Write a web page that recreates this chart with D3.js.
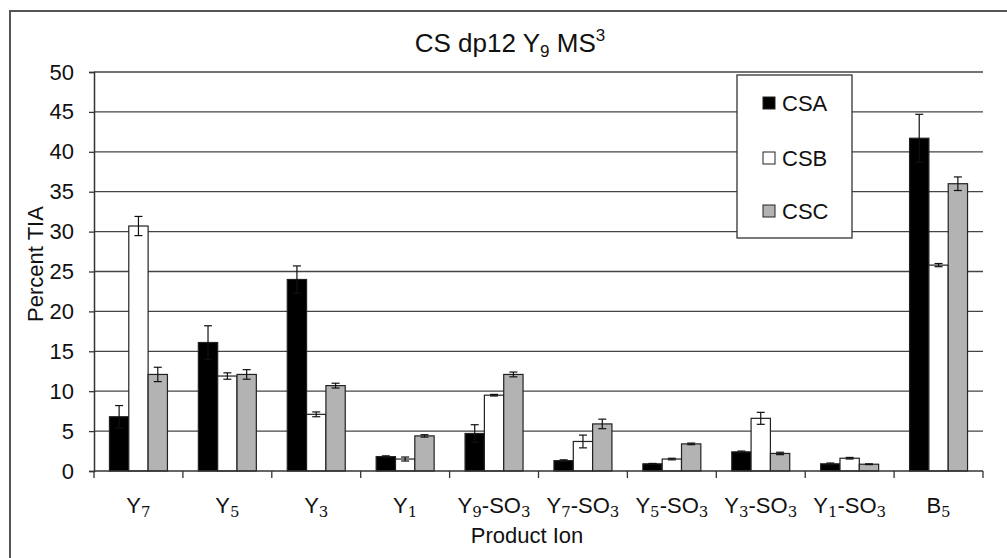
<!DOCTYPE html>
<html>
<head>
<meta charset="utf-8">
<script src="https://cdn.jsdelivr.net/npm/d3@7"></script>
<style>
  html, body { margin: 0; padding: 0; background: #fff; }
  svg { display: block; font-family: "Liberation Sans", Arial, sans-serif; }
</style>
</head>
<body>
<div id="chart"></div>
<script>
// Data
const categories = ["Y_7", "Y_5", "Y_3", "Y_1", "Y_9-SO_3", "Y_7-SO_3", "Y_5-SO_3", "Y_3-SO_3", "Y_1-SO_3", "B_5"];
const seriesNames = ["CSA", "CSB", "CSC"];
const seriesColors = ["#000000", "#ffffff", "#b3b3b3"];
const csa = [6.8, 16.1, 24.0, 1.8, 4.7, 1.3, 0.9, 2.4, 0.9, 41.7];
const csaErr = [1.4, 2.1, 1.7, 0.1, 1.1, 0.1, 0.05, 0.1, 0.1, 3.0];
const csb = [30.7, 11.9, 7.1, 1.5, 9.5, 3.7, 1.5, 6.6, 1.6, 25.8];
const csbErr = [1.2, 0.4, 0.3, 0.25, 0.1, 0.8, 0.1, 0.75, 0.1, 0.2];
const csc = [12.1, 12.1, 10.7, 4.4, 12.1, 5.9, 3.4, 2.2, 0.85, 36.0];
const cscErr = [0.9, 0.6, 0.3, 0.15, 0.3, 0.6, 0.1, 0.15, 0.05, 0.85];
const yTicks = [0, 5, 10, 15, 20, 25, 30, 35, 40, 45, 50];

const width = 1007;
const height = 558;
const plot = { left: 94, right: 983, top: 72, bottom: 471 };

const svg = d3.select("#chart").append("svg")
  .attr("width", width)
  .attr("height", height);

// outer frame (runs past the picture on right and bottom)
svg.append("rect")
  .attr("x", 10).attr("y", 11)
  .attr("width", 1200).attr("height", 800)
  .attr("fill", "none")
  .attr("stroke", "#555")
  .attr("stroke-width", 2);

const x = d3.scaleBand()
  .domain(categories)
  .range([plot.left, plot.right])
  .paddingInner(0)
  .paddingOuter(0);

const xInner = d3.scaleBand()
  .domain(seriesNames)
  .range([0, x.bandwidth()])
  .paddingInner(0)
  .paddingOuter(0.8);

const y = d3.scaleLinear()
  .domain([0, 50])
  .range([plot.bottom, plot.top]);

// gridlines
svg.append("g")
  .selectAll("line")
  .data(yTicks.slice(1))
  .enter()
  .append("line")
  .attr("x1", plot.left).attr("x2", plot.right)
  .attr("y1", (d) => y(d)).attr("y2", (d) => y(d))
  .attr("stroke", "#444")
  .attr("stroke-width", 1.3);

// y axis
const yAxis = svg.append("g")
  .attr("transform", `translate(${plot.left},0)`)
  .call(d3.axisLeft(y).tickValues(yTicks).tickSize(5).tickPadding(15));
yAxis.select(".domain").attr("stroke", "#333").attr("stroke-width", 1.5);
yAxis.selectAll(".tick line").attr("stroke", "#333").attr("stroke-width", 1.3);
yAxis.selectAll("text")
  .attr("fill", "#111")
  .style("font-family", "Liberation Sans, Arial, sans-serif")
  .style("font-size", "22px");

// bars
const series = [
  { name: "CSA", values: csa, errs: csaErr, color: seriesColors[0] },
  { name: "CSB", values: csb, errs: csbErr, color: seriesColors[1] },
  { name: "CSC", values: csc, errs: cscErr, color: seriesColors[2] },
];

series.forEach((s) => {
  const g = svg.append("g");
  const rows = categories.map((c, i) => ({ cat: c, v: s.values[i], e: s.errs[i] }));
  g.selectAll("rect")
    .data(rows)
    .enter()
    .append("rect")
    .attr("x", (d) => x(d.cat) + xInner(s.name))
    .attr("y", (d) => y(d.v))
    .attr("width", xInner.bandwidth())
    .attr("height", (d) => y(0) - y(d.v))
    .attr("fill", s.color)
    .attr("stroke", "#222")
    .attr("stroke-width", 1.2);

  // error bars
  const cx = (d) => x(d.cat) + xInner(s.name) + xInner.bandwidth() / 2;
  g.selectAll("line.err")
    .data(rows)
    .enter()
    .append("line")
    .attr("x1", cx).attr("x2", cx)
    .attr("y1", (d) => y(d.v + d.e))
    .attr("y2", (d) => y(d.v - d.e))
    .attr("stroke", "#111")
    .attr("stroke-width", 1.2);
  ["top", "bot"].forEach((k) => {
    g.selectAll("line.cap-" + k)
      .data(rows)
      .enter()
      .append("line")
      .attr("x1", (d) => cx(d) - 4).attr("x2", (d) => cx(d) + 4)
      .attr("y1", (d) => y(k === "top" ? d.v + d.e : d.v - d.e))
      .attr("y2", (d) => y(k === "top" ? d.v + d.e : d.v - d.e))
      .attr("stroke", "#111")
      .attr("stroke-width", 1.2);
  });
});

// x axis line + ticks at category boundaries
svg.append("line")
  .attr("x1", plot.left).attr("x2", plot.right)
  .attr("y1", y(0)).attr("y2", y(0))
  .attr("stroke", "#333").attr("stroke-width", 1.5);
const boundaries = categories.map((c) => x(c)).concat([plot.right]);
svg.append("g")
  .selectAll("line")
  .data(boundaries)
  .enter()
  .append("line")
  .attr("x1", (d) => d).attr("x2", (d) => d)
  .attr("y1", y(0)).attr("y2", y(0) + 7)
  .attr("stroke", "#333").attr("stroke-width", 1.3);

// x tick labels with subscripts ("_" marks a subscript digit)
const xLabels = svg.append("g");
categories.forEach((c) => {
  const t = xLabels.append("text")
    .attr("x", x(c) + x.bandwidth() / 2)
    .attr("y", 513)
    .attr("text-anchor", "middle")
    .attr("fill", "#111")
    .style("font-size", "22px");
  c.split(/(_\d)/).filter((p) => p).forEach((p) => {
    if (p[0] === "_") {
      t.append("tspan")
        .attr("dy", 4)
        .style("font-family", "DejaVu Serif, serif")
        .style("font-size", "15px")
        .text(p.slice(1));
    } else {
      const ts = t.append("tspan").text(p);
      if (t.selectAll("tspan").size() > 1) ts.attr("dy", -4);
    }
  });
});

// axis titles
svg.append("text")
  .attr("x", 527).attr("y", 543)
  .attr("text-anchor", "middle")
  .attr("fill", "#111")
  .style("font-size", "22px")
  .text("Product Ion");

svg.append("text")
  .attr("transform", `translate(43,264) rotate(-90)`)
  .attr("text-anchor", "middle")
  .attr("fill", "#111")
  .style("font-size", "22px")
  .text("Percent TIA");

// title
const title = svg.append("text")
  .attr("x", 510).attr("y", 52)
  .attr("text-anchor", "middle")
  .attr("fill", "#111")
  .style("font-size", "26px");
title.append("tspan").text("CS dp12 Y");
title.append("tspan").attr("dy", 5).style("font-size", "17px").text("9");
title.append("tspan").attr("dy", -5).text(" MS");
title.append("tspan").attr("dy", -11).style("font-size", "17px").text("3");

// legend
const legend = svg.append("g");
legend.append("rect")
  .attr("x", 737).attr("y", 75)
  .attr("width", 115).attr("height", 163)
  .attr("fill", "#fff")
  .attr("stroke", "#333")
  .attr("stroke-width", 1.3);
const legendY = [103, 158, 211];
series.forEach((s, i) => {
  legend.append("rect")
    .attr("x", 763).attr("y", legendY[i] - 6)
    .attr("width", 12).attr("height", 12)
    .attr("fill", s.color)
    .attr("stroke", "#222")
    .attr("stroke-width", 1);
  legend.append("text")
    .attr("x", 782).attr("y", legendY[i] + 8)
    .attr("fill", "#111")
    .style("font-size", "22px")
    .text(s.name);
});
</script>
</body>
</html>
